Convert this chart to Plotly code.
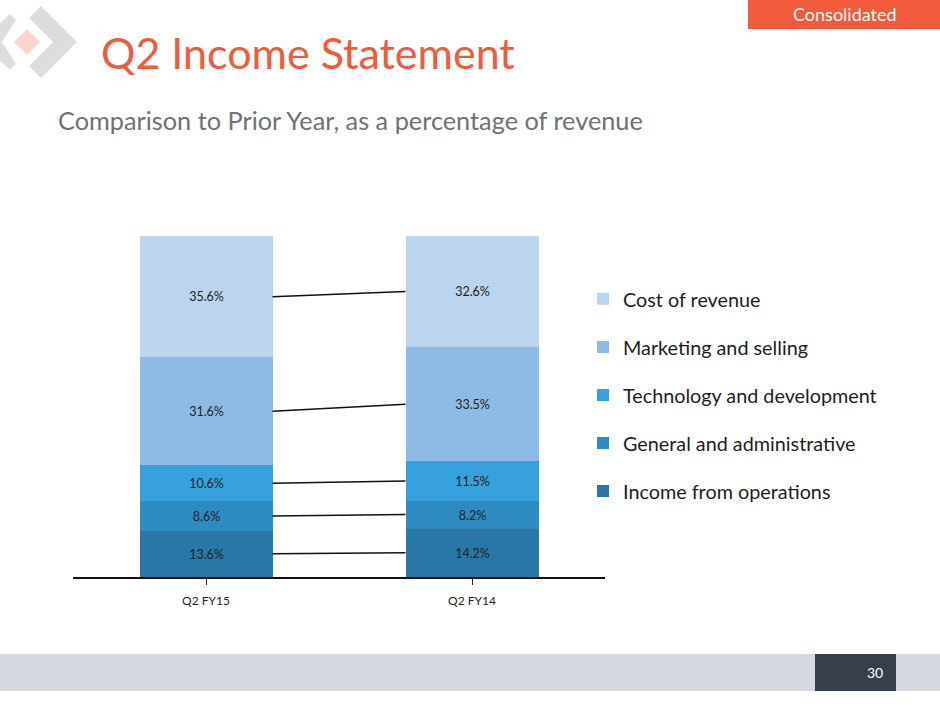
import numpy as np
import plotly.graph_objects as go

# data (percent of revenue)
periods = ["Q2 FY15", "Q2 FY14"]
income_ops = [13.6, 14.2]
gen_admin = [8.6, 8.2]
tech_dev = [10.6, 11.5]
mkt_sell = [31.6, 33.5]
cost_rev = [35.6, 32.6]

series_names = [
    "Income from operations",
    "General and administrative",
    "Technology and development",
    "Marketing and selling",
    "Cost of revenue",
]
series_vals = [income_ops, gen_admin, tech_dev, mkt_sell, cost_rev]
series_colors = ["#2877A6", "#2E8BC2", "#36A1DC", "#8DBBE4", "#BBD5EE"]

W, H = 940, 705
FONT = "Lato"
BAR_W = 0.5


def px(x):
    return x / W


def py(y):
    return 1 - y / H


fig = go.Figure()
xs = np.arange(len(periods))

for i, (name, vals, col) in enumerate(zip(series_names, series_vals, series_colors)):
    fig.add_trace(
        go.Bar(
            x=xs,
            y=vals,
            name=name,
            legendgroup=name,
            legendrank=1000 - i,
            width=BAR_W,
            marker=dict(color=col, line=dict(width=0)),
            texttemplate="%{y:.1f}%",
            textposition="inside",
            insidetextanchor="middle",
            textangle=0,
            constraintext="none",
            textfont=dict(family=FONT, size=12.5, color="#222222"),
            hoverinfo="skip",
        )
    )

# series lines joining the middle of each segment between the two bars
vals = np.array(series_vals)
mids = np.cumsum(vals, axis=0) - vals / 2
for row in mids:
    fig.add_trace(
        go.Scatter(
            x=[xs[0] + BAR_W / 2, xs[1] - BAR_W / 2],
            y=row,
            mode="lines",
            line=dict(color="#111111", width=1.5),
            showlegend=False,
            hoverinfo="skip",
        )
    )

shapes = []


# logo: grey chevrons and pink diamond
def poly(pts, color):
    d = "M " + " L ".join(f"{px(a):.4f},{py(b):.4f}" for a, b in pts) + " Z"
    return dict(type="path", xref="paper", yref="paper", path=d,
                fillcolor=color, line=dict(width=0), layer="above")


shapes.append(poly([(-20, 42), (10, 14), (16, 20), (2, 42), (16, 64), (10, 70)], "#DCDDDF"))
shapes.append(poly([(41, 6), (77, 42), (41, 78), (29, 66), (53, 42), (29, 18)], "#DCDDDF"))
shapes.append(poly([(27, 29), (40, 42), (27, 55), (14, 42)], "#FAD5CD"))

# "Consolidated" tab
shapes.append(dict(type="rect", xref="paper", yref="paper",
                   x0=px(748), x1=px(940), y0=py(29), y1=py(0),
                   fillcolor="#F15A3B", line=dict(width=0)))
# footer band and page box
shapes.append(dict(type="rect", xref="paper", yref="paper",
                   x0=0, x1=1, y0=py(691), y1=py(654),
                   fillcolor="#D4D9E0", line=dict(width=0)))
shapes.append(dict(type="rect", xref="paper", yref="paper",
                   x0=px(815), x1=px(896), y0=py(691), y1=py(654),
                   fillcolor="#373F4A", line=dict(width=0)))

annotations = [
    dict(text="Q2 Income Statement", x=px(99), y=py(52), xanchor="left", yanchor="middle",
         font=dict(family=FONT, size=43, color="#F15A3B")),
    dict(text="Comparison to Prior Year, as a percentage of revenue", x=px(56), y=py(120),
         xanchor="left", yanchor="middle",
         font=dict(family=FONT, size=25.3, color="#6E7275")),
    dict(text="Consolidated", x=px(845), y=py(14), xanchor="center", yanchor="middle",
         font=dict(family=FONT, size=18, color="#FFFFFF")),
    dict(text="30", x=px(885), y=py(672), xanchor="right", yanchor="middle",
         font=dict(family=FONT, size=14, color="#FFFFFF")),
]
for a in annotations:
    a.update(xref="paper", yref="paper", showarrow=False)

fig.update_layout(
    width=W,
    height=H,
    margin=dict(l=0, r=0, t=0, b=0),
    paper_bgcolor="white",
    plot_bgcolor="white",
    barmode="stack",
    bargap=0,
    shapes=shapes,
    annotations=annotations,
    legend=dict(
        x=px(583), y=py(279.5), xanchor="left", yanchor="top",
        traceorder="grouped", tracegroupgap=19.3,
        font=dict(family=FONT, size=19.8, color="#1E1E1E"),
        bgcolor="rgba(0,0,0,0)",
    ),
    xaxis=dict(
        domain=[px(73), px(605)],
        range=[-0.5, 1.5],
        tickvals=xs,
        ticktext=periods,
        ticks="outside",
        ticklen=6,
        tickcolor="#222222",
        ticklabelstandoff=6,
        showline=True,
        linecolor="#111111",
        linewidth=1.5,
        showgrid=False,
        zeroline=False,
        tickfont=dict(family=FONT, size=12, color="#262626"),
        fixedrange=True,
    ),
    yaxis=dict(
        domain=[py(577), py(236)],
        range=[0, 100],
        visible=False,
        showgrid=False,
        fixedrange=True,
    ),
)

# the browser's default 8px body margin would shift the slide
fig.write_html(
    "out.html",
    config={"displayModeBar": False},
    post_script="document.body.style.margin='0';",
)
